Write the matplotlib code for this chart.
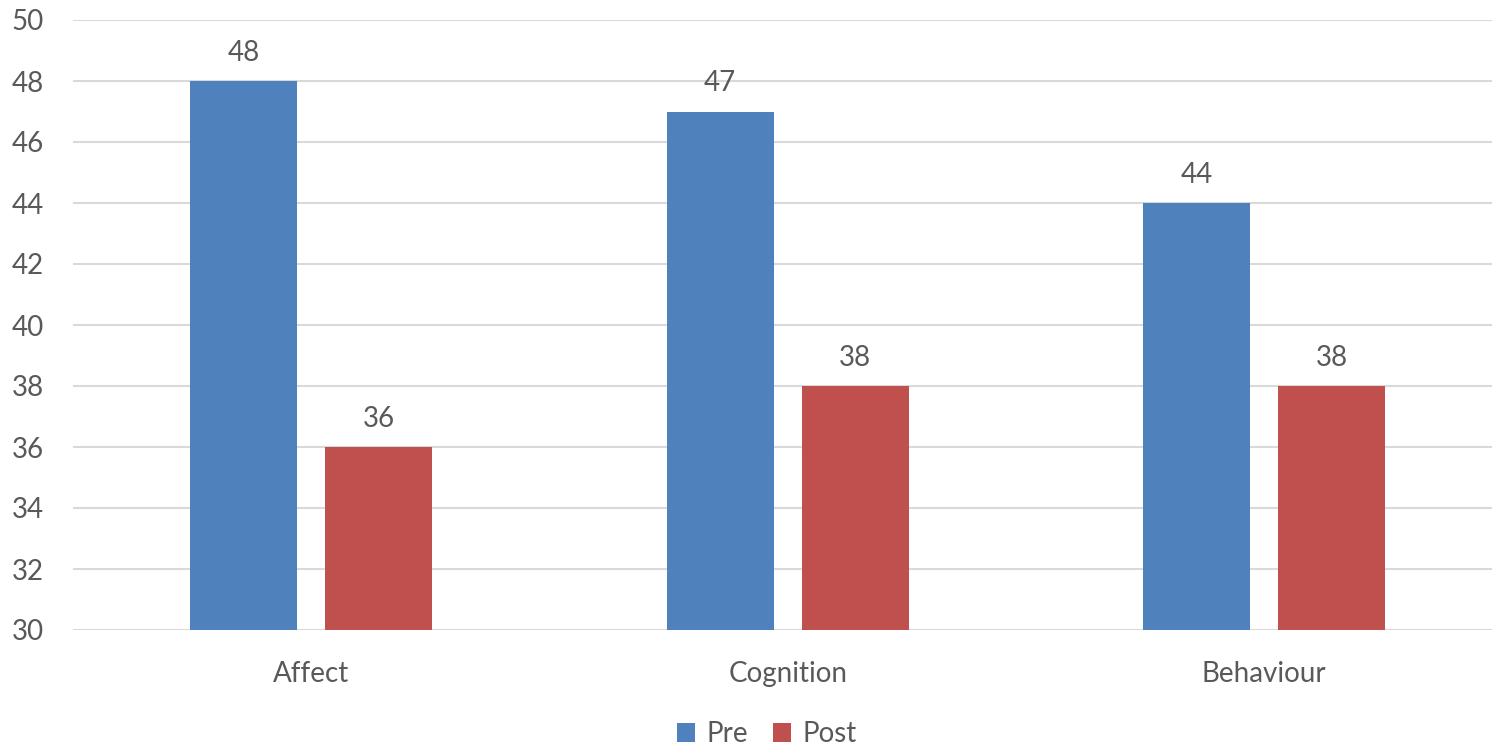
import matplotlib
matplotlib.use("Agg")
import matplotlib.pyplot as plt
import numpy as np

categories = ["Affect", "Cognition", "Behaviour"]
pre_values = [48, 47, 44]
post_values = [36, 38, 38]
series_names = ["Pre", "Post"]

plt.rcParams["font.family"] = ["Lato", "DejaVu Sans"]
text_color = "#595959"
blue = "#4f81bd"
red = "#c0504d"
fs = 20

W, H = 1492, 748
fig = plt.figure(figsize=(W / 100, H / 100), dpi=100)
left_px, right_px, top_px, bottom_px = 73, 1492, 20, 630
ax = fig.add_axes([left_px / W, 1 - bottom_px / H,
                   (right_px - left_px) / W, (bottom_px - top_px) / H])

spacing = 476.5
x = np.arange(len(categories))
width = 107 / spacing
offset = 67.5 / spacing

bars_pre = ax.bar(x - offset, pre_values, width, color=blue,
                  label=series_names[0], zorder=3)
bars_post = ax.bar(x + offset, post_values, width, color=red,
                   label=series_names[1], zorder=3)

ax.set_ylim(30, 50)
ax.set_xlim(-0.5, -0.5 + (right_px - left_px) / spacing)
ax.set_yticks(np.arange(30, 51, 2))
ax.set_xticks(x)
ax.set_xticklabels(categories)
ax.yaxis.grid(True, color="#d9d9d9", linewidth=1.5, zorder=0)
ax.set_axisbelow(True)
for s in ax.spines.values():
    s.set_visible(False)
ax.tick_params(axis="y", length=0, pad=21, labelsize=fs, labelcolor=text_color)
ax.tick_params(axis="x", length=0, pad=22, labelsize=fs, labelcolor=text_color)

for bars, vals in ((bars_pre, pre_values), (bars_post, post_values)):
    for b, v in zip(bars, vals):
        ax.annotate(f"{v}", (b.get_x() + b.get_width() / 2, v),
                    xytext=(0, 11), textcoords="offset points",
                    ha="center", va="bottom", fontsize=fs, color=text_color)

leg = fig.legend(handles=[bars_pre, bars_post], labels=series_names,
                 loc="center", bbox_to_anchor=(767 / W, 1 - 734 / H),
                 ncol=2, frameon=False, fontsize=fs, labelcolor=text_color,
                 handlelength=0.65, handleheight=0.65, handletextpad=0.4,
                 columnspacing=0.9)

fig.savefig("out.png", dpi=100)
